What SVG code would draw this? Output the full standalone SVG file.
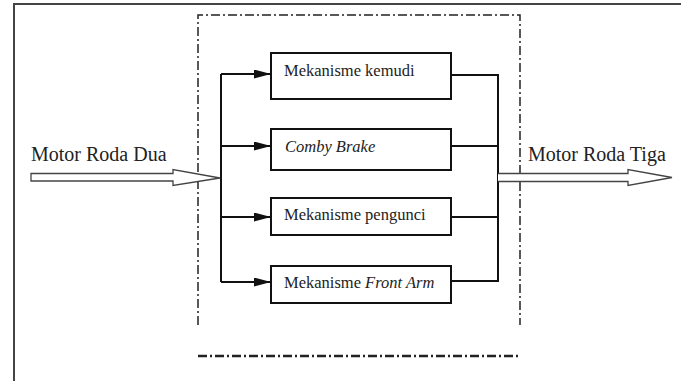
<svg xmlns="http://www.w3.org/2000/svg" width="681" height="381" viewBox="0 0 681 381">
<style>
.t{font-family:"Liberation Serif","Times New Roman",serif;fill:#222}
.big{font-size:20px}
.sm{font-size:16.5px}
.box{fill:#fff;stroke:#111;stroke-width:2}
.ln{fill:none;stroke:#111;stroke-width:2}
.dd{fill:none;stroke:#222;stroke-width:1.5;stroke-dasharray:9 3 2 3}
.hol{fill:#fff;stroke:#444;stroke-width:1.3}
</style>
<defs>
<marker id="ah" viewBox="0 0 10 10" refX="10" refY="5" markerWidth="17" markerHeight="9" markerUnits="userSpaceOnUse" orient="auto" preserveAspectRatio="none">
<path d="M0,0 L10,5 L0,10 z" fill="#111"/>
</marker>
</defs>
<rect width="681" height="381" fill="#fff"/>
<g id="frame">
<path d="M14,381 V4 H681" fill="none" stroke="#444" stroke-width="2"/>
</g>
<g id="system-boundary">
<path class="dd" d="M198,325 V15 H520 V325"/>
<path d="M198,356 H520" fill="none" stroke="#222" stroke-width="2.5" stroke-dasharray="9 3 2 3"/>
</g>
<g id="connectors">
<path class="ln" d="M221,74 V282"/>
<path class="ln" d="M221,74 H271" marker-end="url(#ah)"/>
<path class="ln" d="M221,146 H271" marker-end="url(#ah)" stroke-width="1.5"/>
<path class="ln" d="M221,217 H271" marker-end="url(#ah)"/>
<path class="ln" d="M221,282 H271" marker-end="url(#ah)"/>
<path class="ln" d="M451,75 H498 V281 H451"/>
<path class="ln" d="M451,146 H498"/>
<path class="ln" d="M451,217 H498"/>
<path class="hol" d="M31,173.5 H173 V169.5 L220,178 L173,185.5 V181 H31 z"/>
<path class="hol" d="M498,173.5 H628 V169.5 L672,177.5 L628,185.5 V181.5 H498"/>
</g>
<g id="input-label"><text class="t big" x="31" y="161">Motor Roda Dua</text></g>
<g id="output-label"><text class="t big" x="528" y="161">Motor Roda Tiga</text></g>
<g id="kemudi">
<rect class="box" x="271" y="53" width="180" height="46"/>
<text class="t sm" x="284" y="76">Mekanisme kemudi</text>
</g>
<g id="comby-brake">
<rect class="box" x="271" y="129" width="180" height="41"/>
<text class="t sm" x="285" y="152" font-style="italic">Comby Brake</text>
</g>
<g id="pengunci">
<rect class="box" x="271" y="198" width="180" height="37"/>
<text class="t sm" x="284" y="220">Mekanisme pengunci</text>
</g>
<g id="front-arm">
<rect class="box" x="271" y="266" width="180" height="37"/>
<text class="t sm" x="284" y="288">Mekanisme <tspan font-style="italic">Front Arm</tspan></text>
</g>
</svg>
